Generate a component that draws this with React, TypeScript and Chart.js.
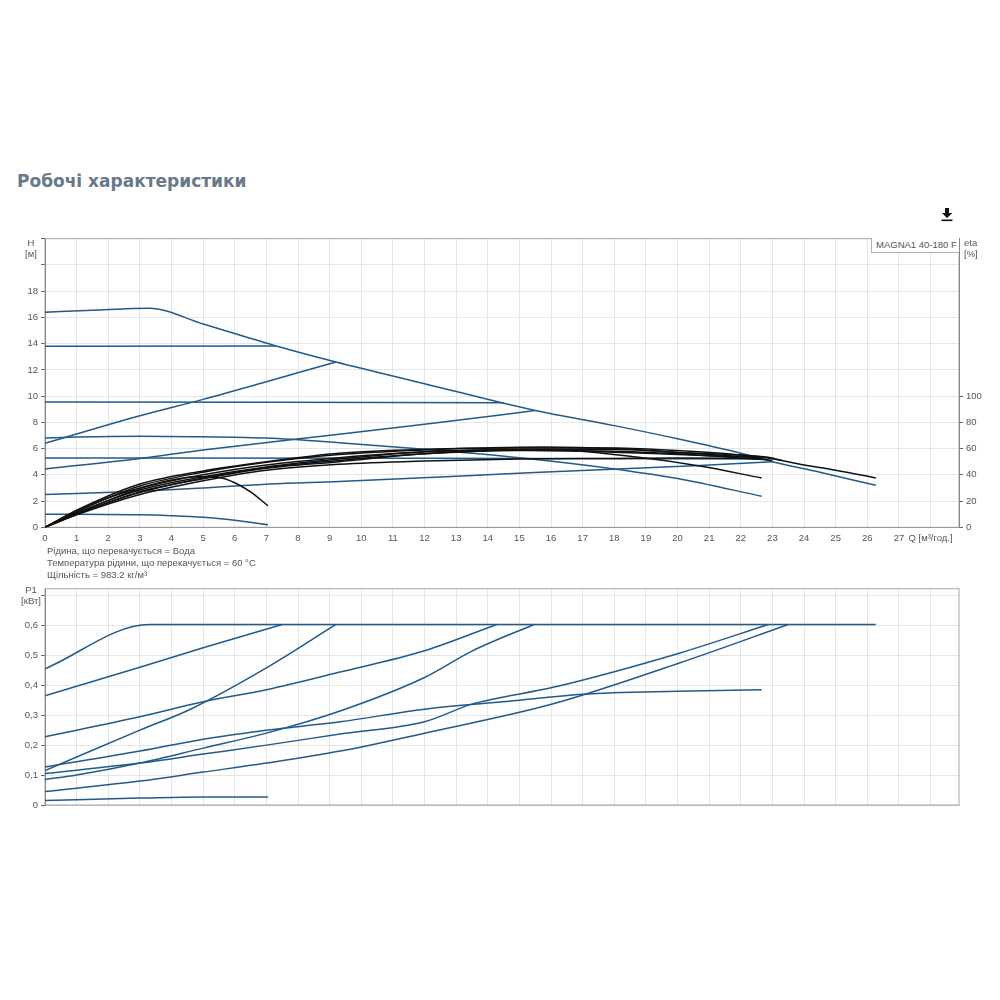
import React, { useEffect, useRef } from "react";
import { Chart, registerables } from "chart.js";

Chart.register(...registerables);

type Pt = [number, number];

const qTickLabels = ["0","1","2","3","4","5","6","7","8","9","10","11","12","13","14","15","16","17","18","19","20","21","22","23","24","25","26","27","Q [м³/год.]"];
const hTickLabels = ["0","2","4","6","8","10","12","14","16","18","",""];
const etaTicks = [0, 20, 40, 60, 80, 100];
const pTickLabels = ["0","0,1","0,2","0,3","0,4","0,5","0,6",""];
const notes = ["Рідина, що перекачується = Вода", "Температура рідини, що перекачується = 60 °C", "Щільність = 983.2 кг/м³"];

// H curves, blue
const hMax: Pt[] = [[0,16.4],[1.5,16.55],[3.3,16.7],[5,15.5],[7.2,13.9],[9.2,12.6],[12,10.95],[15.5,8.9],[18,7.75],[20,6.75],[22,5.65],[23,5.0],[24.5,4.2],[26.27,3.2]];
const hFlat138: Pt[] = [[0,13.8],[7.3,13.82]];
const hRise1: Pt[] = [[0,6.4],[3,8.5],[5,9.75],[7,11.1],[9.2,12.6]];
const hFlat95: Pt[] = [[0,9.55],[14.5,9.5]];
const hRise2: Pt[] = [[0,4.45],[3,5.25],[5,5.9],[9.3,7.1],[12,7.85],[15.5,8.9]];
const hProp: Pt[] = [[0,6.8],[1,6.88],[3,6.95],[5,6.9],[7,6.8],[9.3,6.45],[12,5.95],[15,5.3],[18,4.45],[20,3.72],[22.66,2.37]];
const hFlat53: Pt[] = [[0,5.28],[12,5.27],[22.7,5.2]];
const hRise3: Pt[] = [[0,2.5],[3,2.75],[5,3.0],[7.1,3.3],[9.3,3.5],[15.3,4.15],[20.7,4.72],[23,5.0]];
const hLow: Pt[] = [[0,1.0],[3,0.95],[4,0.88],[5,0.76],[6,0.53],[7.05,0.2]];

// eta curves, black
const eta1: Pt[] = [[0,0],[1,1.2],[2,2.25],[3,3.0],[4,3.6],[4.8,3.85],[5.5,3.8],[6,3.4],[6.5,2.7],[7.05,1.64]];
const eta2: Pt[] = [[0,0],[1,1.0],[3,2.65],[5,3.75],[7,4.55],[9.3,5.1],[12,5.6],[15.9,5.93],[18.7,5.35],[20.7,4.67],[22.66,3.76]];
const eta3: Pt[] = [[0,0],[1,0.95],[3,2.5],[5,3.55],[7,4.35],[9.3,4.8],[12,5.05],[15,5.2],[18,5.25],[20,5.28],[22.66,5.25]];
const eta4: Pt[] = [[0,0],[1,1.0],[3,2.7],[5,3.7],[7,4.5],[9.3,5.0],[12,5.6],[15,5.85],[18,5.8],[20,5.6],[23,5.1]];
const eta5: Pt[] = [[0,0],[1,1.1],[3,2.85],[5,3.85],[7,4.6],[9.3,5.2],[12,5.75],[15,5.95],[18,5.95],[20,5.7],[22.7,5.3]];
const eta6: Pt[] = [[0,0],[1,1.3],[3,3.3],[5,4.3],[7,5.0],[9.3,5.65],[12,5.95],[15,6.05],[18,6.05],[20,5.85],[22.8,5.3],[24,4.75],[25,4.35],[26.27,3.76]];
const eta7: Pt[] = [[0,0],[1,1.2],[3,3.15],[5,4.2],[7,4.95],[9.3,5.55],[12,5.9],[15.8,6.12],[18,6.0],[20,5.7],[22.8,5.35],[23.3,5.1]];
const eta8: Pt[] = [[0,0],[1,1.05],[3,2.95],[5,4.0],[7,4.75],[9.3,5.3],[12,5.75],[15,5.9],[17,5.8],[20,5.55],[22.8,5.3]];

// P1 curves, blue
const p1: Pt[] = [[0,0.455],[3.3,0.603],[26.27,0.603]];
const p2: Pt[] = [[0,0.365],[3,0.46],[5,0.525],[7.5,0.603]];
const p3: Pt[] = [[0,0.115],[3,0.25],[4.6,0.32],[7,0.458],[9.2,0.603]];
const p4: Pt[] = [[0,0.228],[3,0.295],[5,0.345],[7,0.385],[9.33,0.444],[12,0.515],[14.28,0.603]];
const p5: Pt[] = [[0,0.085],[1,0.1],[3,0.14],[5,0.19],[7,0.24],[9.33,0.314],[12,0.426],[13.5,0.514],[15.46,0.603]];
const p6: Pt[] = [[0,0.127],[3,0.18],[5,0.22],[7,0.25],[9.33,0.278],[12,0.32],[15,0.35],[17,0.37],[20,0.38],[22.66,0.385]];
const p7: Pt[] = [[0,0.105],[3,0.14],[5,0.17],[7,0.2],[9.33,0.237],[12,0.278],[13.5,0.337],[16.07,0.393],[20.08,0.508],[22.87,0.603]];
const p8: Pt[] = [[0,0.045],[3,0.08],[5,0.11],[7,0.14],[9.33,0.18],[12,0.24],[16.07,0.338],[20.08,0.475],[23.5,0.603]];
const p9: Pt[] = [[0,0.015],[3,0.023],[5,0.027],[7.05,0.027]];

const BLUE = "#225a8a";
const BLACK = "#111111";
const GRID = "#e4e6e8";
const AXIS = "#666666";
const TEXT = "#555555";
const FONT = "'Liberation Sans', Arial, sans-serif";

const ds = (pts: Pt[], color: string) => ({
  data: pts.map(([x, y]) => ({ x, y })),
  borderColor: color,
  borderWidth: 1.5,
  pointRadius: 0,
  showLine: true,
  cubicInterpolationMode: "monotone" as const,
});

const frame = {
  id: "frame",
  beforeDatasetsDraw(chart: any) {
    const { ctx, chartArea: a } = chart;
    ctx.save();
    ctx.strokeStyle = "#a8a8a8";
    ctx.lineWidth = 1;
    ctx.strokeRect(a.left, a.top, a.right - a.left, a.bottom - a.top);
    ctx.restore();
  },
};

const xAxis = (showLabels: boolean, height: number) => ({
  type: "linear" as const,
  min: 0,
  max: 28.9,
  afterBuildTicks: (s: any) => {
    s.ticks = qTickLabels.map((_, i) => ({ value: i }));
  },
  afterFit: (s: any) => {
    s.height = height;
  },
  border: { color: showLabels ? AXIS : "#c8c8c8", width: 1 },
  grid: { color: GRID, lineWidth: 1, drawTicks: false },
  ticks: {
    display: showLabels,
    autoSkip: false,
    maxRotation: 0,
    padding: 5,
    color: TEXT,
    font: { family: FONT, size: 9.5 },
    callback: (v: any) => qTickLabels[v] ?? "",
  },
});

function App() {
  const top = useRef<HTMLCanvasElement>(null);
  const bottom = useRef<HTMLCanvasElement>(null);

  useEffect(() => {
    const upper = new Chart(top.current as HTMLCanvasElement, {
      type: "scatter",
      plugins: [frame],
      data: {
        datasets: [
          ...[eta6, eta7, eta5, eta8, eta4, eta2, eta3, eta1].map((c) => ds(c, BLACK)),
          ...[hMax, hFlat138, hRise1, hFlat95, hRise2, hProp, hFlat53, hRise3, hLow].map((c) => ds(c, BLUE)),
        ],
      },
      options: {
        responsive: false,
        animation: false,
        devicePixelRatio: 1,
        layout: { padding: { top: 7.5, left: 0, right: 0, bottom: 0 } },
        plugins: { legend: { display: false }, tooltip: { enabled: false } },
        scales: {
          x: xAxis(true, 22.7),
          y: {
            min: 0,
            max: 22,
            afterBuildTicks: (s: any) => {
              s.ticks = hTickLabels.map((_, i) => ({ value: i * 2 }));
            },
            afterFit: (s: any) => {
              s.width = 45;
            },
            border: { color: AXIS, width: 1 },
            grid: { color: GRID, lineWidth: 1, tickLength: 4, tickColor: AXIS },
            ticks: {
              padding: 3,
              color: TEXT,
              font: { family: FONT, size: 9.5 },
              callback: (v: any) => hTickLabels[v / 2] ?? "",
            },
          },
          y2: {
            position: "right",
            min: 0,
            max: 220,
            afterBuildTicks: (s: any) => {
              s.ticks = etaTicks.map((value) => ({ value }));
            },
            afterFit: (s: any) => {
              s.width = 41;
            },
            border: { color: AXIS, width: 1 },
            grid: { drawOnChartArea: false, tickLength: 4, tickColor: AXIS },
            ticks: { padding: 3, color: TEXT, font: { family: FONT, size: 9.5 } },
          },
        },
      } as any,
    });

    const lower = new Chart(bottom.current as HTMLCanvasElement, {
      type: "scatter",
      plugins: [frame],
      data: { datasets: [p1, p2, p3, p4, p5, p6, p7, p8, p9].map((c) => ds(c, BLUE)) },
      options: {
        responsive: false,
        animation: false,
        devicePixelRatio: 1,
        layout: { padding: { top: 4.5, left: 0, right: 41, bottom: 0 } },
        plugins: { legend: { display: false }, tooltip: { enabled: false } },
        scales: {
          x: xAxis(false, 10),
          y: {
            min: 0,
            max: 0.7225,
            afterBuildTicks: (s: any) => {
              s.ticks = pTickLabels.map((_, i) => ({ value: i / 10 }));
            },
            afterFit: (s: any) => {
              s.width = 45;
            },
            border: { color: AXIS, width: 1 },
            grid: { color: GRID, lineWidth: 1, tickLength: 4, tickColor: AXIS },
            ticks: {
              padding: 3,
              color: TEXT,
              font: { family: FONT, size: 9.5 },
              callback: (v: any) => pTickLabels[Math.round(v * 10)] ?? "",
            },
          },
        },
      } as any,
    });

    return () => {
      upper.destroy();
      lower.destroy();
    };
  }, []);

  const small: React.CSSProperties = {
    position: "absolute",
    fontFamily: FONT,
    fontSize: 9.5,
    lineHeight: "11px",
    color: TEXT,
    whiteSpace: "nowrap",
  };

  return (
    <div style={{ position: "absolute", left: 0, top: 0, width: 1000, height: 1000, background: "#fff", overflow: "hidden" }}>
      <div
        style={{
          position: "absolute",
          left: 17,
          top: 170,
          fontFamily: "'DejaVu Sans', sans-serif",
          fontWeight: 700,
          fontSize: 17,
          lineHeight: "22px",
          color: "#68788a",
          whiteSpace: "nowrap",
        }}
      >
        Робочі характеристики
      </div>
      <svg style={{ position: "absolute", left: 940, top: 207 }} width={14} height={15} viewBox="0 0 14 15">
        <path d="M4.5 1h4v5h3.5L6.5 11 1.5 6h3z" transform="translate(0.5 0)" fill="#111" />
        <rect x="1.5" y="12.5" width="11" height="1.6" fill="#111" />
      </svg>

      <canvas ref={top} width={1000} height={320} style={{ position: "absolute", left: 0, top: 230 }} />
      <canvas ref={bottom} width={1000} height={235} style={{ position: "absolute", left: 0, top: 580 }} />

      <div style={{ ...small, left: 20, width: 22, textAlign: "center", top: 237 }}>H<br />[м]</div>
      <div style={{ ...small, left: 964, top: 237 }}>eta<br />[%]</div>
      <div style={{ ...small, left: 20, width: 22, textAlign: "center", top: 584 }}>P1<br />[кВт]</div>
      <div
        style={{
          ...small,
          left: 871,
          top: 238,
          width: 83,
          height: 14,
          lineHeight: "14px",
          paddingLeft: 4,
          background: "#fff",
          borderLeft: "1px solid #b0b0b0",
          borderBottom: "1px solid #b0b0b0",
        }}
      >
        MAGNA1 40-180 F
      </div>
      {notes.map((n, i) => (
        <div key={n} style={{ ...small, left: 47, top: 545 + i * 12 }}>{n}</div>
      ))}
    </div>
  );
}

export default App;
